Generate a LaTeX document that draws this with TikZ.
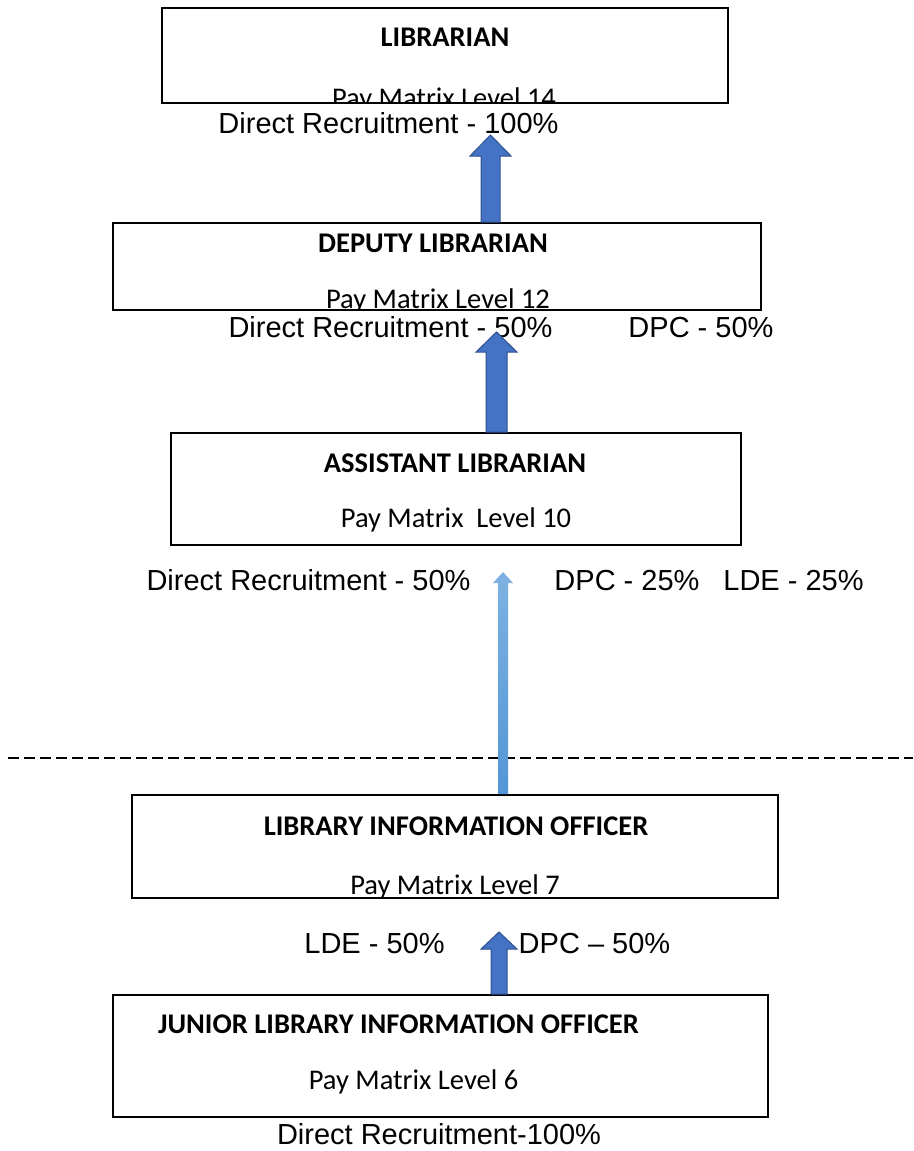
\documentclass[tikz,border=0pt]{standalone}
\usepackage{fontspec}
\setmainfont{Carlito}
\newfontfamily\arialf{Liberation Sans}
\usetikzlibrary{calc}
\definecolor{arrowblue}{HTML}{4472C4}
\definecolor{arrowedge}{HTML}{2F528F}
\definecolor{lighttop}{HTML}{7EB2E2}
\definecolor{lightbot}{HTML}{5396D6}
\newcommand\blockarrow[6]{%
  \path[#6] ($(#1)+(-#3,0)$) -- ($(#2)+(-#3,#5)$) -- ($(#2)+(-#4,#5)$) -- (#2)
    -- ($(#2)+(#4,#5)$) -- ($(#2)+(#3,#5)$) -- ($(#1)+(#3,0)$) -- cycle;}
\begin{document}
\begin{tikzpicture}[x=1pt,y=-1pt,
  postbox/.style={draw=black, line width=1.6pt, rectangle, inner sep=0pt},
  boxtitle/.style={font=\fontsize{28.5}{34}\selectfont\bfseries, anchor=base, inner sep=0pt},
  paytext/.style={font=\fontsize{28.5}{34}\selectfont, anchor=base, inner sep=0pt},
  lbl/.style={font=\arialf\fontsize{29}{35}\selectfont, anchor=base, inner sep=0pt},
  darkarrow/.style={fill=arrowblue, draw=arrowedge, line width=1pt},
  lightarrow/.style={top color=lighttop, bottom color=lightbot, draw=none},
  divider/.style={draw=black, line width=2.2pt, dash pattern=on 11pt off 5pt},
]
\fill[white] (0,0) rectangle (913,1151);
\useasboundingbox (0,0) rectangle (913,1151);

% boxes
\node[postbox, minimum width=566pt, minimum height=95pt] (bL) at (445,55.5) {};
\node[postbox, minimum width=648pt, minimum height=87pt] (bD) at (437,266.5) {};
\node[postbox, minimum width=570pt, minimum height=112pt] (bA) at (456,489) {};
\node[postbox, minimum width=646pt, minimum height=103pt] (bO) at (455,846.5) {};
\node[postbox, minimum width=655pt, minimum height=122pt] (bJ) at (440.5,1056) {};

% box texts
\begin{scope}
\clip (bL.south west) rectangle (bL.north east);
\node[boxtitle] (tL) at (445,46) {LIBRARIAN};
\node[paytext] (pL) at (444,107) {Pay Matrix Level 14};
\end{scope}
\begin{scope}
\clip (bD.south west) rectangle (bD.north east);
\node[boxtitle] (tD) at (433,252) {DEPUTY LIBRARIAN};
\node[paytext] (pD) at (438,308) {Pay Matrix Level 12};
\end{scope}
\node[boxtitle] (tA) at (455,472) {ASSISTANT LIBRARIAN};
\node[paytext] (pA) at (456,527) {Pay Matrix~~Level 10};
\node[boxtitle] (tO) at (456,835) {LIBRARY INFORMATION OFFICER};
\node[paytext] (pO) at (455,894) {Pay Matrix Level 7};
\node[boxtitle] (tJ) at (398.5,1033) {JUNIOR LIBRARY INFORMATION OFFICER};
\node[paytext] (pJ) at (413.5,1089) {Pay Matrix Level 6};

% recruitment labels
\node[lbl] (r1) at (388.5,133) {Direct Recruitment - 100\%};
\node[lbl] (r2a) at (390.5,337) {Direct Recruitment - 50\%};
\node[lbl] (r2b) at (701,337) {DPC - 50\%};
\node[lbl] (r3a) at (308.5,590) {Direct Recruitment - 50\%};
\node[lbl] (r3b) at (627,590) {DPC - 25\%};
\node[lbl] (r3c) at (793.5,590) {LDE - 25\%};
\node[lbl] (r4a) at (374.5,953) {LDE - 50\%};
\node[lbl] (r4b) at (594.5,953) {DPC – 50\%};
\node[lbl] (r5) at (439,1144) {Direct Recruitment-100\%};

% divider
\coordinate (dl) at (8,758);
\coordinate (dr) at (913,758);
\draw[divider] (dl) -- (dr);

% arrows
\coordinate (a1t) at (490.5,135);
\coordinate (a1b) at (a1t |- bD.north);
\coordinate (a2t) at (496.5,332);
\coordinate (a2b) at (a2t |- bA.north);
\coordinate (a3t) at (503,572);
\coordinate (a3b) at (a3t |- bO.north);
\coordinate (a4t) at (499,932);
\coordinate (a4b) at (a4t |- bJ.north);
\blockarrow{a1b}{a1t}{9.5}{20.5}{21}{darkarrow}
\blockarrow{a2b}{a2t}{10.5}{20.5}{20}{darkarrow}
\blockarrow{a3b}{a3t}{5}{10}{11}{lightarrow}
\blockarrow{a4b}{a4t}{8}{18}{17}{darkarrow}
\end{tikzpicture}
\end{document}
